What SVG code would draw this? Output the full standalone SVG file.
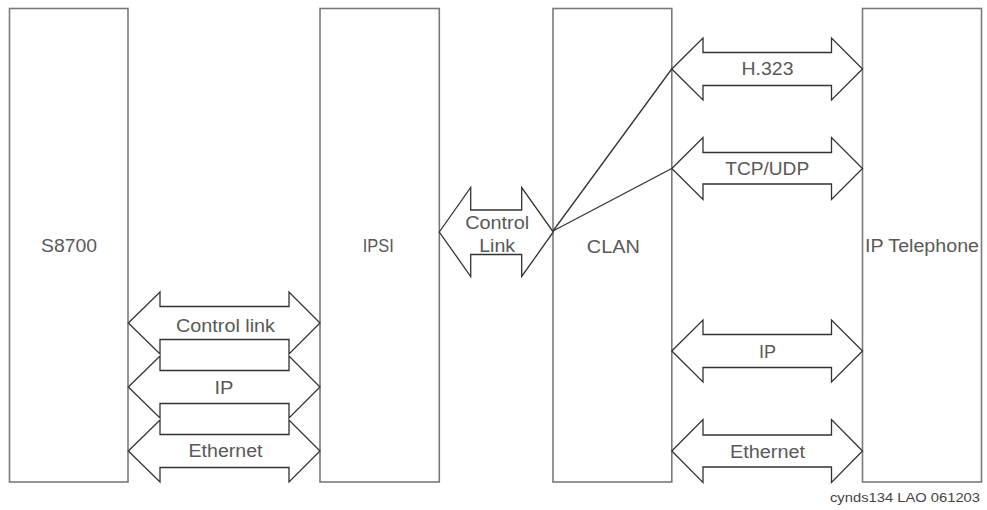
<svg xmlns="http://www.w3.org/2000/svg" width="987" height="510" viewBox="0 0 987 510">
<style>
.box{fill:#fff;stroke:#7a7a7a;stroke-width:1.6}
.arr{fill:#fff;stroke:#333;stroke-width:1.3;stroke-linejoin:miter}
.ln{fill:none;stroke:#333;stroke-width:1.3}
.lbl{font-family:"Liberation Sans",Arial,sans-serif;font-size:18px;fill:#595959;text-anchor:middle}
.cap{font-family:"Liberation Sans",Arial,sans-serif;font-size:13px;fill:#444}
</style>
<rect width="987" height="510" fill="#fff"/>
<g id="s8700"><rect class="box" x="9.5" y="8.5" width="118.5" height="473.5"/><text class="lbl" x="69" y="252" textLength="56" lengthAdjust="spacingAndGlyphs">S8700</text></g>
<g id="ipsi"><rect class="box" x="320" y="8.5" width="119.3" height="473.5"/><text class="lbl" x="378.3" y="252" textLength="31" lengthAdjust="spacingAndGlyphs">IPSI</text></g>
<g id="clan"><rect class="box" x="553" y="8.5" width="118.8" height="473.5"/><text class="lbl" x="613.3" y="252.5" textLength="53" lengthAdjust="spacingAndGlyphs">CLAN</text></g>
<g id="iptel"><rect class="box" x="862.5" y="8.5" width="119" height="473.5"/><text class="lbl" x="922" y="252" textLength="114" lengthAdjust="spacingAndGlyphs">IP Telephone</text></g>
<g id="connectors">
<g id="ctl-link-left"><polygon class="arr" points="128.3,323 160,292 160,306.5 289,306.5 289,292 320,323 289,354 289,339.5 160,339.5 160,354"/><text class="lbl" x="225.5" y="332" textLength="99" lengthAdjust="spacingAndGlyphs">Control link</text></g>
<g id="ip-left"><polygon class="arr" points="128.3,387 160,356 160,370.5 289,370.5 289,356 320,387 289,418 289,403.5 160,403.5 160,418"/><text class="lbl" x="224" y="394.3" textLength="19" lengthAdjust="spacingAndGlyphs">IP</text></g>
<g id="eth-left"><polygon class="arr" points="128.3,451 160,420 160,434.5 289,434.5 289,420 320,451 289,482 289,467.5 160,467.5 160,482"/><text class="lbl" x="225.5" y="457.3" textLength="74" lengthAdjust="spacingAndGlyphs">Ethernet</text></g>
<g id="ctl-link-mid"><polygon class="arr" points="439.3,232 470.7,187.5 470.7,210 521.7,210 521.7,187.5 553.3,232 521.7,276.5 521.7,254.5 470.7,254.5 470.7,276.5"/><text class="lbl" x="497.2" y="228.5" textLength="64" lengthAdjust="spacingAndGlyphs">Control</text><text class="lbl" x="497.2" y="251.7" textLength="36" lengthAdjust="spacingAndGlyphs">Link</text></g>
<line class="ln" x1="553" y1="231" x2="671.7" y2="69"/>
<line class="ln" x1="553" y1="231" x2="671.7" y2="168.5"/>
<g id="h323"><polygon class="arr" points="671.8,69 703,38 703,52.5 831.5,52.5 831.5,38 862.5,69 831.5,100 831.5,85.5 703,85.5 703,100"/><text class="lbl" x="767.5" y="75" textLength="52" lengthAdjust="spacingAndGlyphs">H.323</text></g>
<g id="tcpudp"><polygon class="arr" points="671.8,168.5 703,137.5 703,152.5 831.5,152.5 831.5,137.5 862.5,168.5 831.5,199.5 831.5,184 703,184 703,199.5"/><text class="lbl" x="767.2" y="175" textLength="84" lengthAdjust="spacingAndGlyphs">TCP/UDP</text></g>
<g id="ip-right"><polygon class="arr" points="671.8,351 703,320 703,334.5 831.5,334.5 831.5,320 862.5,351 831.5,382 831.5,367.5 703,367.5 703,382"/><text class="lbl" x="767.5" y="357.5" textLength="17" lengthAdjust="spacingAndGlyphs">IP</text></g>
<g id="eth-right"><polygon class="arr" points="671.8,451 703,419.5 703,435 831.5,435 831.5,419.5 862.5,451 831.5,482.5 831.5,467 703,467 703,482.5"/><text class="lbl" x="767.5" y="457.5" textLength="75" lengthAdjust="spacingAndGlyphs">Ethernet</text></g>
</g>
<text class="cap" x="830" y="502" textLength="150" lengthAdjust="spacingAndGlyphs">cynds134 LAO 061203</text>
</svg>
